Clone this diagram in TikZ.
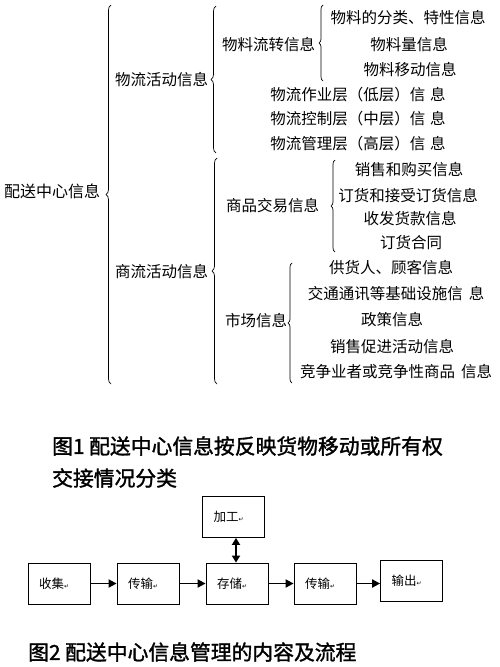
\documentclass[tikz,border=0pt]{standalone}
\usepackage{fontspec}
\setmainfont{Noto Sans CJK SC}
\newfontfamily\djv{DejaVu Sans}
\newfontfamily\capfont[FakeBold=1.5]{Noto Sans CJK SC}
\usetikzlibrary{decorations.pathreplacing,arrows.meta}
\newcommand{\pmark}{{\djv\fontsize{6}{6}\selectfont ↵}}
\begin{document}
\begin{tikzpicture}[x=1pt,y=-1pt,
  lbl/.style={font=\fontsize{15.5}{15.5}\selectfont, inner sep=0pt},
  brc/.style={decorate, decoration={brace, amplitude=5pt}, line width=0.7pt},
  box/.style={draw, line width=0.8pt, minimum width=62pt, minimum height=41pt,
    text width=40pt, align=left, inner xsep=11pt, inner ysep=0pt,
    font=\fontsize{12.5}{12.5}\selectfont},
  flow/.style={-{Triangle[length=8pt,width=8pt]}, line width=1.8pt},
  captxt/.style={font=\fontsize{20.8}{20.8}\capfont, inner sep=0pt, anchor=west}]
\useasboundingbox (0,0) rectangle (500,667);

% ---- Figure 1: classification tree ----
\node[lbl, anchor=west, font=\fontsize{16}{16}\selectfont] (root) at (4,191) {配送中心信息};
\coordinate (b1t) at (111,5); \coordinate (b1b) at (111,384);
\draw[brc] (b1b) -- (b1t);

\node[lbl, anchor=west] (wl) at (115,80) {物流活动信息};
\node[lbl, anchor=west] (sl) at (115,272) {商流活动信息};
\coordinate (b2t) at (216,6); \coordinate (b2b) at (216,153);
\draw[brc] (b2b) -- (b2t);
\coordinate (b3t) at (217,158); \coordinate (b3b) at (217,384);
\draw[brc] (b3b) -- (b3t);

\node[lbl, anchor=west] (wlz) at (222,45) {物料流转信息};
\coordinate (b4t) at (323,5); \coordinate (b4b) at (323,81);
\draw[brc, decoration={amplitude=4pt}] (b4b) -- (b4t);
\node[lbl] (a1) at (408,18) {物料的分类、特性信息};
\node[lbl] (a2) at (409,45) {物料量信息};
\node[lbl] (a3) at (410,70) {物料移动信息};

\node[lbl] (c1) at (358,95) {物流作业层（低层）信\hspace{5pt}息};
\node[lbl] (c2) at (358,119) {物流控制层（中层）信\hspace{5pt}息};
\node[lbl] (c3) at (358,144) {物流管理层（高层）信\hspace{5pt}息};

\node[lbl, anchor=west] (spjy) at (226,206) {商品交易信息};
\coordinate (b5t) at (335,160); \coordinate (b5b) at (335,252);
\draw[brc, decoration={amplitude=4pt}] (b5b) -- (b5t);
\node[lbl] (d1) at (409,170) {销售和购买信息};
\node[lbl] (d2) at (408,196) {订货和接受订货信息};
\node[lbl] (d3) at (410,219) {收发货款信息};
\node[lbl] (d4) at (411,243) {订货合同};

\node[lbl, anchor=west] (sc) at (225,321) {市场信息};
\coordinate (b6t) at (292,263); \coordinate (b6b) at (292,383);
\draw[brc, decoration={amplitude=4pt}] (b6b) -- (b6t);
\node[lbl] (e1) at (391,268) {供货人、顾客信息};
\node[lbl] (e2) at (396,294) {交通通讯等基础设施信\hspace{6pt}息};
\node[lbl] (e3) at (392,320) {政策信息};
\node[lbl] (e4) at (392,347) {销售促进活动信息};
\node[lbl] (e5) at (396,372) {竞争业者或竞争性商品\hspace{6pt}信息};

\node[captxt] (cap1a) at (52,446) {图1 配送中心信息按反映货物移动或所有权};
\node[captxt] (cap1b) at (52,478) {交接情况分类};

% ---- Figure 2: flow ----
\node[box] (jg) at (233.5,517) {加工\pmark};
\node[box] (sj) at (59,583.5) {收集\pmark};
\node[box] (cs1) at (148,583.5) {传输\pmark};
\node[box] (cc) at (237,583.5) {存储\pmark};
\node[box] (cs2) at (325,583.5) {传输\pmark};
\node[box] (sc2) at (411.5,581) {输出\pmark};

\draw[flow] (sj.east) -- (cs1.west);
\draw[flow] (cs1.east) -- (cc.west);
\draw[flow] (cc.east) -- (cs2.west);
\draw[flow] (cs2.east) -- (cs2.east -| sc2.west);
\draw[{Triangle[length=7pt,width=8pt]}-{Triangle[length=7pt,width=8pt]}, line width=1.8pt]
  (jg.south -| 236,0) -- (cc.north -| 236,0);

\node[captxt] (cap2) at (28,652) {图2 配送中心信息管理的内容及流程};
\end{tikzpicture}
\end{document}
